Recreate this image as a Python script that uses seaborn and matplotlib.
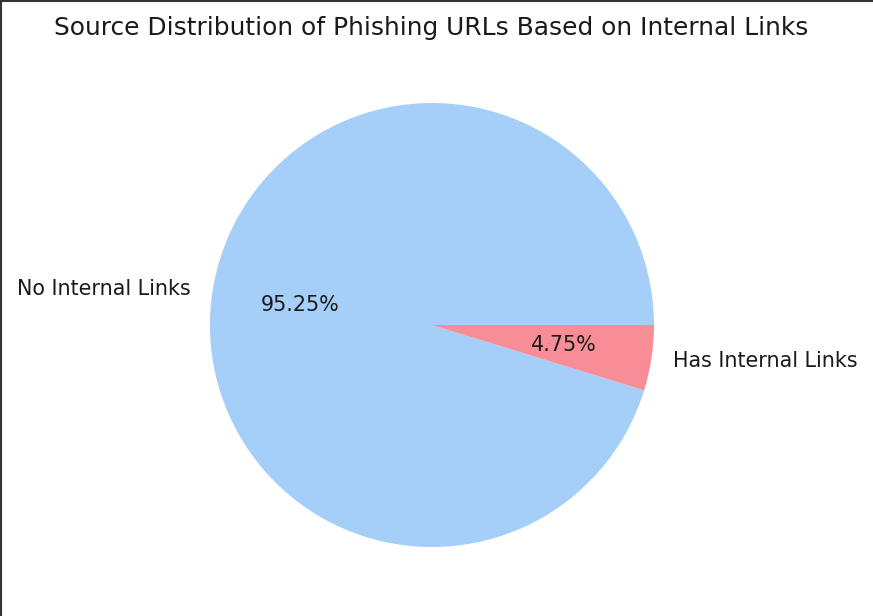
import matplotlib
matplotlib.use('Agg')
import matplotlib.pyplot as plt
from matplotlib.lines import Line2D
import seaborn as sns

# データ
labels = ['No Internal Links', 'Has Internal Links']
shares = [95.25, 4.75]
colors = ['#a5cff8', '#f88d97']

sns.set_theme(style='white')
plt.rcParams['font.family'] = ['DejaVu Sans']
plt.rcParams['text.color'] = '#1a1a1a'

fig = plt.figure(figsize=(8.73, 6.16), dpi=100)
ax = fig.add_axes([0.2405, 0.112, 0.5086, 0.7208])
ax.pie(shares, labels=labels, colors=colors, autopct='%1.2f%%',
       wedgeprops={'linewidth': 0}, textprops={'fontsize': 14.9})
ax.set_xlim(-1, 1)
ax.set_ylim(-1, 1)
ax.set_aspect('equal')

fig.suptitle('Source Distribution of Phishing URLs Based on Internal Links',
             x=0.494, y=0.955, va='center', fontsize=17.9)

# スクリーンショットの枠線（左と上）
fig.add_artist(Line2D([0.001, 0.001], [0, 1], color='#333333', lw=1.5,
                      transform=fig.transFigure))
fig.add_artist(Line2D([0, 1], [0.999, 0.999], color='#333333', lw=1.5,
                      transform=fig.transFigure))

fig.savefig('out.png', dpi=100)
